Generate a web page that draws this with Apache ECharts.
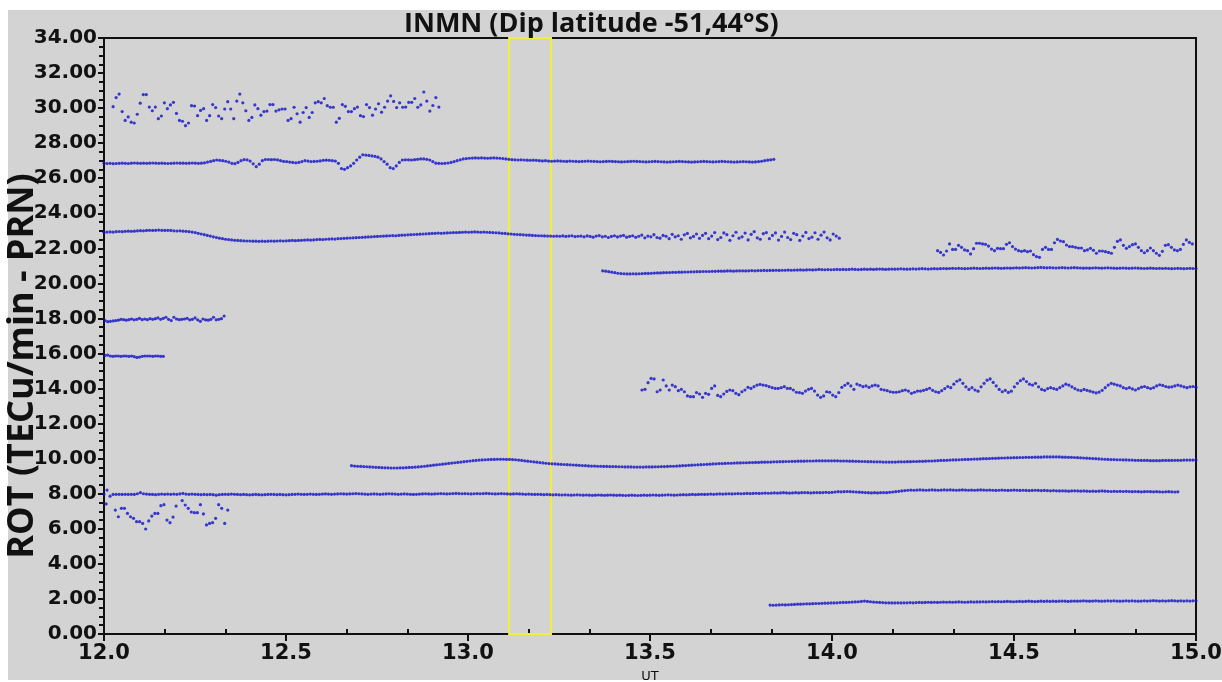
<!DOCTYPE html>
<html><head><meta charset="utf-8">
<script src="https://cdn.jsdelivr.net/npm/echarts@6/dist/echarts.min.js"></script>
<style>
html,body{margin:0;padding:0;background:#fff;}
#bg{position:absolute;left:8px;top:10px;width:1214px;height:670px;background:#d3d3d3;}
#chart{position:absolute;left:0;top:0;width:1222px;height:682px;}
</style></head><body>
<div id="bg"></div><div id="chart"></div>
<script>
const titleText = "INMN (Dip latitude -51,44°S)";
const yAxisName = "ROT (TECu/min - PRN)";
const xAxisName = "UT";
const xRange = [12, 15];
const xTickStep = 0.5;
const yRange = [0, 34];
const yTickStep = 2;
const highlightWindow = [13.113, 13.228];

// each track: start time, end time (UT hours), ROT-offset values sampled evenly between them
const s30 = {start:12.025, end:12.92, values:[30.08,30.6,30.8,29.8,29.3,29.5,29.2,29.15,29.65,30.28,30.77,30.77,30.06,29.85,30.06,29.4,29.55,30.3,29.97,30.18,30.33,29.7,29.3,29.25,29.0,29.15,30.14,30.12,29.57,29.87,29.97,29.3,29.57,30.2,30.03,29.55,29.4,29.95,30.37,29.95,29.4,30.4,30.8,30.3,29.85,29.3,29.47,30.18,29.97,29.6,29.8,29.83,30.2,30.2,29.83,29.9,29.95,29.95,29.3,29.4,30.05,29.68,29.2,29.75,30.03,29.47,29.75,30.3,30.37,30.3,30.55,30.14,30.05,30.05,29.2,29.42,30.2,30.1,29.8,29.8,29.97,30.06,29.57,29.52,30.2,30.03,29.6,29.95,30.25,29.77,30.05,30.4,30.7,30.38,30.03,30.3,30.05,30.06,30.33,30.33,30.55,30.05,30.18,30.92,30.4,29.83,30.15,30.6,30.06]};
const s27 = {start:12.0, end:13.84, values:[
26.85,26.84,26.85,26.83,26.84,26.85,26.86,26.85,26.84,26.86,26.87,26.86,26.85,26.86,26.85,26.86,26.87,26.86,26.85,26.86,26.85,26.84,26.85,26.86,26.87,26.86,26.86,26.85,26.86,26.87,26.86,26.85,26.86,26.88,26.92,26.96,
27.0,27.04,27.02,27.0,26.97,26.92,26.85,26.83,26.9,27.0,27.06,27.05,26.98,26.82,26.66,26.8,27.0,27.07,27.07,27.06,27.07,27.05,27.0,26.96,
26.95,26.92,26.9,26.88,26.9,26.95,27.0,26.98,26.95,26.96,26.97,26.99,27.02,27.03,27.02,27.0,26.98,26.85,26.55,26.51,26.6,26.7,26.85,27.04,
27.2,27.34,27.32,27.3,27.27,27.25,27.2,27.1,26.95,26.8,26.6,26.55,26.7,26.9,27.04,27.05,27.05,27.04,27.06,27.08,27.1,27.1,27.08,27.04,
26.95,26.86,26.85,26.84,26.85,26.87,26.9,26.95,27.0,27.05,27.1,27.12,27.14,27.15,27.16,27.15,27.16,27.15,27.14,27.15,27.16,27.15,27.14,27.12,
27.1,27.08,27.06,27.05,27.04,27.05,27.04,27.03,27.02,27.03,27.02,27.0,26.99,27.0,26.98,26.97,26.98,26.99,26.98,26.97,26.96,26.98,26.97,26.96,
26.95,26.96,26.97,26.98,26.97,26.96,26.95,26.94,26.95,26.96,26.97,26.96,26.95,26.94,26.93,26.94,26.95,26.96,26.97,26.96,26.95,26.94,26.93,26.94,
26.95,26.96,26.95,26.94,26.93,26.92,26.93,26.94,26.95,26.96,26.95,26.94,26.93,26.92,26.93,26.94,26.95,26.96,26.95,26.94,26.93,26.94,26.95,26.96,
26.95,26.94,26.93,26.92,26.93,26.94,26.95,26.94,26.93,26.92,26.93,26.95,26.97,27.0,27.03,27.05,27.08]};
const s23 = {start:12.0, end:14.02, values:[
22.92,22.93,22.94,22.93,22.95,22.96,22.95,22.97,22.98,22.97,22.98,23.0,23.01,23.0,23.02,23.03,23.02,23.03,23.04,23.03,23.02,23.03,23.02,23.0,22.99,23.0,22.98,22.97,22.95,22.93,
22.9,22.86,22.82,22.78,22.74,22.7,22.66,22.62,22.58,22.55,22.52,22.5,22.48,22.46,22.45,22.44,22.43,22.42,22.42,22.41,22.41,22.4,22.41,22.4,
22.41,22.42,22.41,22.42,22.43,22.42,22.43,22.44,22.45,22.44,22.45,22.46,22.47,22.48,22.47,22.48,22.5,22.51,22.5,22.52,22.53,22.54,22.53,22.55,
22.56,22.57,22.58,22.59,22.6,22.61,22.62,22.63,22.64,22.65,22.66,22.67,22.68,22.69,22.7,22.71,22.72,22.73,22.72,22.74,22.75,22.76,22.77,22.78,
22.79,22.8,22.81,22.82,22.83,22.84,22.85,22.86,22.87,22.86,22.87,22.88,22.89,22.9,22.9,22.91,22.92,22.93,22.92,22.93,22.94,22.93,22.92,22.93,
22.92,22.91,22.9,22.89,22.88,22.86,22.85,22.83,22.82,22.8,22.79,22.78,22.77,22.76,22.75,22.74,22.73,22.72,22.72,22.71,22.7,22.7,22.69,22.7,
22.69,22.71,22.68,22.7,22.72,22.67,22.69,22.7,22.66,22.71,22.68,22.64,22.7,22.73,22.66,22.69,22.62,22.68,22.72,22.65,22.7,22.74,22.64,22.68,
22.72,22.63,22.69,22.76,22.6,22.7,22.66,22.78,22.62,22.58,22.74,22.69,22.55,22.8,22.66,22.72,22.52,22.77,22.85,22.6,22.68,22.82,22.57,22.74,
22.86,22.55,22.7,22.9,22.5,22.62,22.88,22.78,22.46,22.72,22.92,22.58,22.66,22.87,22.48,22.8,22.95,22.6,22.52,22.84,22.9,22.55,22.74,22.88,
22.47,22.68,22.93,22.62,22.5,22.86,22.78,22.45,22.7,22.91,22.56,22.64,22.89,22.52,22.75,22.93,22.6,22.48,22.82,22.7,22.58]};
const s22 = {start:14.29, end:14.99, values:[21.87,21.77,21.62,21.85,22.25,21.94,21.94,22.17,22.06,21.91,21.87,21.68,21.98,22.29,22.29,22.25,22.23,22.13,21.96,21.87,22.0,21.98,21.98,22.23,22.32,22.1,21.96,21.87,21.83,21.87,21.81,21.85,21.64,21.53,21.49,21.94,22.06,21.94,21.94,22.32,22.51,22.42,22.38,22.19,22.1,22.1,22.06,22.02,22.02,21.87,21.91,22.0,21.89,21.72,21.85,21.85,21.81,21.77,21.72,22.06,22.4,22.48,22.17,22.0,22.1,22.21,22.25,22.06,21.87,21.75,21.87,22.02,21.87,21.72,21.6,21.83,22.17,22.21,22.06,21.91,21.87,21.94,22.23,22.48,22.34,22.25]};
const s21 = {start:13.37, end:15.0, values:[
20.72,20.7,20.67,20.64,20.61,20.58,20.56,20.55,20.54,20.54,20.55,20.54,20.55,20.56,20.57,20.57,
20.58,20.59,20.6,20.6,20.61,20.62,20.62,20.63,20.63,20.64,20.64,20.65,20.65,20.66,20.66,20.67,20.67,20.68,20.68,20.68,20.69,20.69,20.7,20.7,
20.7,20.71,20.71,20.7,20.71,20.72,20.72,20.71,20.72,20.73,20.72,20.73,20.73,20.74,20.73,20.74,20.74,20.75,20.74,20.75,20.75,20.76,20.75,20.76,
20.76,20.77,20.76,20.77,20.78,20.77,20.78,20.8,20.79,20.78,20.79,20.78,20.79,20.8,20.79,20.8,20.79,20.8,20.81,20.8,20.79,20.8,20.81,20.8,
20.81,20.8,20.81,20.82,20.81,20.8,20.81,20.82,20.81,20.82,20.83,20.82,20.81,20.82,20.83,20.82,20.83,20.84,20.83,20.82,20.83,20.84,20.83,20.84,
20.85,20.84,20.85,20.86,20.85,20.86,20.85,20.84,20.85,20.86,20.87,20.86,20.85,20.86,20.87,20.86,20.87,20.88,20.87,20.86,20.87,20.88,20.87,20.88,
20.89,20.88,20.89,20.9,20.89,20.88,20.89,20.9,20.91,20.9,20.89,20.9,20.89,20.88,20.89,20.9,20.89,20.88,20.89,20.9,20.89,20.88,20.87,20.88,
20.87,20.88,20.89,20.88,20.87,20.88,20.89,20.88,20.87,20.86,20.87,20.88,20.87,20.86,20.87,20.88,20.87,20.86,20.85,20.86,20.87,20.86,20.85,20.86,
20.85,20.86,20.85,20.84,20.85,20.86,20.85,20.84,20.85,20.86,20.85,20.85]};
const s18 = {start:12.003, end:12.33, values:[17.88,17.82,17.84,17.86,17.88,17.9,17.95,17.93,17.9,17.93,17.97,17.92,17.95,18.01,17.93,17.97,17.93,17.99,17.95,17.99,18.03,17.95,18.01,18.07,17.95,17.88,18.07,17.97,17.93,17.95,17.97,18.01,17.92,17.95,18.03,17.92,17.84,17.97,17.92,17.9,17.95,18.07,17.92,17.95,17.99,18.14]};
const s16 = {start:12.003, end:12.163, values:[15.89,15.91,15.86,15.84,15.86,15.86,15.84,15.86,15.86,15.84,15.86,15.82,15.78,15.8,15.84,15.86,15.86,15.86,15.84,15.86,15.86,15.84,15.84]};
const s14 = {start:13.478, end:15.0, values:[
13.92,13.96,14.34,14.58,14.55,13.82,13.92,14.49,14.15,13.92,14.2,14.11,13.88,13.96,13.82,13.58,13.54,13.54,13.77,13.69,13.5,13.73,13.67,14.01,14.15,13.61,13.54,13.69,13.84,13.92,13.88,13.73,13.65,13.82,13.92,14.07,14.01,14.11,14.2,14.24,14.2,14.17,14.11,14.05,14.01,14.01,14.05,14.11,14.01,14.01,13.92,13.79,13.77,13.73,13.86,13.96,14.01,13.86,13.63,13.5,13.58,13.82,13.79,13.63,13.54,13.77,14.07,14.19,14.3,14.15,13.96,14.26,14.19,14.11,14.15,14.07,14.15,14.2,14.15,13.96,13.92,13.88,13.82,13.79,13.79,13.82,13.88,13.92,13.86,13.73,13.79,13.86,
13.86,13.9,13.95,14.02,13.9,13.82,13.78,13.88,14.0,14.12,14.05,
14.25,14.42,14.5,14.3,14.1,13.95,14.05,13.92,13.85,14.1,14.3,
14.48,14.55,14.35,14.15,13.95,13.82,13.9,13.78,13.85,14.1,14.3,
14.45,14.55,14.4,14.25,14.2,14.3,14.1,13.95,13.9,14.0,14.05,
14.0,13.95,14.05,14.15,14.25,14.2,14.1,14.0,13.92,13.88,13.95,
13.9,13.85,13.8,13.75,13.8,13.9,14.05,14.2,14.3,14.25,14.2,
14.15,14.05,14.0,14.05,13.98,13.92,14.0,14.08,14.12,14.05,14.0,
14.05,14.15,14.22,14.18,14.12,14.08,14.1,14.15,14.2,14.15,14.1,14.05,14.1,14.12,14.08]};
const s10 = {start:12.68, end:15.0, values:[
9.6,9.58,9.57,9.56,9.55,9.54,9.53,9.52,9.51,9.5,9.49,9.48,9.48,9.47,9.47,
9.47,9.48,9.48,9.49,9.5,9.51,9.52,9.53,9.55,9.57,9.59,9.61,9.63,9.65,9.67,9.69,9.71,9.73,9.75,9.77,9.79,9.81,9.83,9.85,
9.87,9.89,9.9,9.92,9.93,9.94,9.95,9.96,9.96,9.97,9.97,9.97,9.96,9.96,9.95,9.94,9.92,9.9,9.88,9.86,9.84,9.82,9.8,9.78,
9.76,9.74,9.72,9.71,9.7,9.69,9.68,9.67,9.66,9.65,9.64,9.63,9.62,9.61,9.6,9.59,9.58,9.58,9.57,9.57,9.56,9.56,9.55,9.55,
9.55,9.54,9.54,9.53,9.53,9.53,9.52,9.52,9.52,9.52,9.53,9.53,9.53,9.54,9.54,9.55,9.55,9.56,9.57,9.57,9.58,9.59,9.6,9.61,
9.62,9.63,9.64,9.65,9.66,9.67,9.68,9.69,9.7,9.71,9.72,9.72,9.73,9.74,9.74,9.75,9.76,9.76,9.77,9.77,9.78,9.78,9.79,9.79,
9.8,9.8,9.81,9.81,9.82,9.82,9.83,9.83,9.84,9.84,9.85,9.85,9.86,9.86,9.86,9.87,9.87,9.87,9.88,9.88,9.88,9.88,9.88,9.88,
9.88,9.88,9.87,9.87,9.87,9.86,9.86,9.85,9.85,9.84,9.84,9.83,9.83,9.82,9.82,9.82,9.81,9.81,9.81,9.81,9.81,9.82,9.82,9.82,
9.83,9.83,9.84,9.84,9.85,9.85,9.86,9.87,9.87,9.88,9.89,9.9,9.9,9.91,9.92,9.93,9.93,9.94,9.95,9.96,9.96,9.97,9.98,9.98,
9.99,10.0,10.0,10.01,10.02,10.02,10.03,10.04,10.04,10.05,10.05,10.06,10.06,10.07,10.07,10.08,10.08,10.08,10.09,10.09,10.09,10.1,10.1,10.1,
10.1,10.1,10.1,10.09,10.09,10.08,10.08,10.07,10.06,10.05,10.04,10.03,10.02,10.01,10.0,9.99,9.98,9.97,9.96,9.95,9.95,9.94,9.94,9.93,
9.93,9.92,9.92,9.91,9.91,9.9,9.9,9.9,9.89,9.89,9.89,9.89,9.9,9.9,9.9,9.9,9.91,9.91,9.91,9.92,9.92,9.92,9.92,9.92]};
const s8 = {start:12.0, end:14.95, values:[
7.98,8.21,7.86,7.96,7.97,7.97,7.96,7.97,7.96,7.97,7.96,8.0,8.06,8.0,7.98,7.97,7.96,7.95,7.97,7.98,7.97,7.98,7.97,7.98,
7.97,7.99,8.02,7.98,7.97,7.98,7.97,7.96,7.95,7.96,7.95,7.96,7.95,7.92,7.95,7.96,7.97,7.96,7.98,7.97,7.96,7.95,7.96,7.95,
7.94,7.95,7.96,7.95,7.94,7.95,7.96,7.97,7.96,7.95,7.96,7.95,7.94,7.95,7.96,7.97,7.98,7.97,7.96,7.97,7.98,7.97,7.96,7.97,
7.98,7.99,7.98,7.97,7.98,7.99,8.0,7.99,7.98,7.99,8.0,8.01,8.0,7.99,7.98,7.97,7.98,7.99,7.98,7.97,7.98,7.99,8.0,7.99,
7.98,7.97,7.98,7.99,7.98,7.97,7.96,7.97,7.98,7.99,8.0,7.99,7.98,7.99,8.0,8.01,8.0,7.99,8.0,8.01,8.02,8.01,8.0,8.01,
8.0,7.99,8.0,8.01,8.0,8.01,8.02,8.01,8.0,7.99,8.0,8.01,8.0,7.99,7.98,7.99,8.0,7.99,7.98,7.97,7.98,7.97,7.96,7.97,
7.96,7.95,7.96,7.95,7.94,7.95,7.94,7.93,7.94,7.93,7.92,7.93,7.94,7.93,7.92,7.93,7.92,7.91,7.92,7.93,7.92,7.91,7.92,7.93,
7.92,7.91,7.92,7.91,7.9,7.91,7.92,7.91,7.9,7.91,7.92,7.91,7.92,7.93,7.92,7.91,7.92,7.93,7.94,7.93,7.92,7.93,7.94,7.95,
7.94,7.95,7.96,7.95,7.96,7.97,7.96,7.97,7.98,7.97,7.98,7.99,7.98,7.99,8.0,7.99,8.0,8.01,8.0,8.01,8.02,8.01,8.02,8.03,
8.02,8.03,8.04,8.03,8.04,8.05,8.04,8.05,8.06,8.05,8.04,8.05,8.06,8.05,8.06,8.07,8.06,8.05,8.06,8.07,8.06,8.07,8.08,8.07,
8.08,8.1,8.12,8.11,8.12,8.13,8.12,8.11,8.1,8.09,8.08,8.07,8.06,8.05,8.06,8.05,8.06,8.07,8.06,8.08,8.1,8.12,8.14,8.16,
8.18,8.2,8.21,8.2,8.21,8.22,8.21,8.2,8.21,8.22,8.21,8.2,8.21,8.22,8.21,8.22,8.21,8.2,8.21,8.22,8.21,8.2,8.21,8.2,
8.21,8.22,8.21,8.2,8.21,8.2,8.19,8.2,8.21,8.2,8.19,8.2,8.21,8.2,8.19,8.2,8.19,8.18,8.19,8.2,8.19,8.18,8.19,8.18,
8.17,8.18,8.17,8.16,8.17,8.16,8.15,8.16,8.17,8.16,8.15,8.16,8.15,8.14,8.15,8.14,8.15,8.16,8.15,8.14,8.13,8.14,8.13,8.14,
8.13,8.14,8.13,8.12,8.13,8.12,8.11,8.12,8.13,8.12,8.11,8.12,8.11,8.1,8.11,8.12,8.11,8.1,8.11]};
const s7 = {start:12.006, end:12.34, values:[7.42,null,null,7.07,6.69,7.17,7.17,6.88,6.69,6.6,6.41,6.41,6.31,5.99,6.45,6.73,6.88,6.88,7.32,7.38,6.5,6.35,6.67,7.3,null,7.61,7.36,7.17,6.96,6.92,6.92,7.38,6.85,6.22,6.31,6.35,6.6,7.38,7.17,6.31,7.07]};
const s2 = {start:13.83, end:15.0, values:[
1.65,1.64,1.65,1.66,1.67,1.66,1.67,1.68,1.69,1.7,1.7,1.71,1.72,1.72,1.73,1.74,1.74,1.75,1.76,1.76,1.77,
1.77,1.78,1.79,1.8,1.8,1.81,1.82,1.83,1.84,1.86,1.88,1.86,1.84,1.82,1.81,1.8,1.79,1.78,1.78,1.77,1.77,1.78,1.77,1.78,
1.78,1.79,1.78,1.79,1.8,1.79,1.8,1.81,1.8,1.81,1.8,1.81,1.82,1.81,1.82,1.81,1.82,1.83,1.82,1.81,1.82,1.83,1.82,1.83,
1.83,1.84,1.83,1.84,1.85,1.84,1.85,1.84,1.85,1.86,1.85,1.84,1.85,1.86,1.85,1.86,1.87,1.86,1.85,1.86,1.87,1.86,1.87,1.86,
1.87,1.86,1.87,1.88,1.87,1.86,1.87,1.88,1.87,1.88,1.89,1.88,1.87,1.88,1.89,1.88,1.87,1.88,1.89,1.88,1.89,1.88,1.87,1.88,
1.89,1.88,1.89,1.88,1.87,1.88,1.89,1.88,1.89,1.9,1.89,1.88,1.89,1.88,1.89,1.9,1.89,1.88,1.89,1.88,1.89,1.88,1.89,1.89]};

const tracks = [s30, s27, s23, s22, s21, s18, s16, s14, s10, s8, s7, s2];
const dotColor = '#1010c8';

function toPoints(t) {
  const n = t.values.length;
  const step = (t.end - t.start) / (n - 1);
  const pts = [];
  t.values.forEach((v, i) => { if (v !== null) pts.push([t.start + i * step, v]); });
  return pts;
}

const series = tracks.map((t, k) => ({
  type: 'scatter',
  symbol: 'circle',
  symbolSize: 3.2,
  data: toPoints(t),
  itemStyle: { color: dotColor },
  silent: true,
  animation: false,
  xAxisIndex: 0, yAxisIndex: 0,
  markArea: k === 0 ? {
    silent: true,
    itemStyle: { color: 'rgba(0,0,0,0)', borderColor: '#f2ee3a', borderWidth: 2 },
    data: [[{ xAxis: highlightWindow[0], yAxis: yRange[0] }, { xAxis: highlightWindow[1], yAxis: yRange[1] }]]
  } : undefined
}));

const chart = echarts.init(document.getElementById('chart'), null, { renderer: 'canvas' });
chart.setOption({
  animation: false,
  backgroundColor: 'transparent',
  title: {
    text: titleText, left: 399, top: 6,
    textStyle: { fontFamily: 'Open Sans', fontWeight: 'bold', fontSize: 27, color: '#111' }
  },
  graphic: [{
    type: 'text', x: 23, y: 366, rotation: Math.PI / 2, silent: true,
    style: {
      text: yAxisName, font: 'bold 36px "Open Sans"', fill: '#111',
      align: 'center', verticalAlign: 'middle', textAlign: 'center', textVerticalAlign: 'middle'
    }
  }],
  grid: { left: 104, right: 26, top: 38, bottom: 48, show: true, borderColor: '#111', borderWidth: 2, backgroundColor: 'transparent', outerBoundsMode: 'none', containLabel: false },
  xAxis: [{
    type: 'value', min: xRange[0], max: xRange[1], interval: xTickStep,
    name: xAxisName, nameLocation: 'middle', nameGap: 36,
    nameTextStyle: { fontFamily: 'DejaVu Sans', fontSize: 13, color: '#111' },
    axisLine: { show: true, lineStyle: { color: '#111', width: 2 } },
    axisTick: { show: true, length: 7, lineStyle: { color: '#111', width: 2 } },
    axisLabel: { margin: 9, fontFamily: 'DejaVu Sans', fontWeight: 'bold', fontSize: 21, color: '#111', formatter: v => v.toFixed(1) },
    splitLine: { show: false }
  }, {
    type: 'value', min: xRange[0], max: xRange[1], interval: xTickStep, position: 'bottom', offset: 0,
    axisLine: { show: false },
    axisTick: { show: false, inside: true },
    minorTick: { show: true, splitNumber: 3, length: 5, lineStyle: { color: '#111', width: 2 } },
    axisLabel: { show: false },
    splitLine: { show: false }
  }],
  yAxis: {
    type: 'value', min: yRange[0], max: yRange[1], interval: yTickStep,
    axisLine: { show: true, lineStyle: { color: '#111', width: 2 } },
    axisTick: { show: true, length: 6, lineStyle: { color: '#111', width: 2 } },
    minorTick: { show: true, splitNumber: 4, length: 5, lineStyle: { color: '#111', width: 2 } },
    axisLabel: { margin: 7, fontFamily: 'DejaVu Sans', fontWeight: 'bold', fontSize: 20, color: '#111', formatter: v => v.toFixed(2) },
    splitLine: { show: false }
  },
  series: series
});
</script>
</body></html>
